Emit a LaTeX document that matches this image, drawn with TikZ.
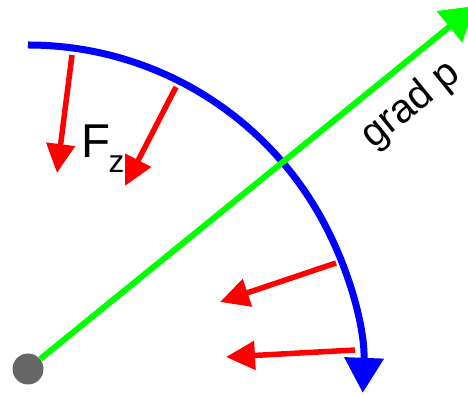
\documentclass[tikz,border=0pt]{standalone}
\usepackage{fontspec}
\setmainfont{Liberation Sans}
\usetikzlibrary{arrows.meta}
\definecolor{gradgreen}{RGB}{0,255,0}
\definecolor{dotgray}{RGB}{102,102,102}

\begin{document}
\begin{tikzpicture}[
    force/.style={red, line width=0.11cm, -{Triangle[width=0.56cm,length=0.58cm]}},
    front/.style={blue, line width=0.14cm, -{Triangle[width=0.76cm,length=0.7cm]}},
    grad/.style={gradgreen, line width=0.12cm, -{Triangle[width=0.78cm,length=0.66cm]}}]
    \useasboundingbox (0,0) rectangle (9.36,7.92);
    % Forces
    \foreach \n/\sx/\sy/\ex/\ey in {1/1.44/6.82/1.14/4.46, 2/3.52/6.18/2.50/4.20, 3/6.72/2.66/4.40/1.88, 4/7.10/0.92/4.52/0.78} {
        \coordinate (fs\n) at (\sx,\sy);
        \coordinate (fe\n) at (\ex,\ey);
        \draw[force] (fs\n) -- (fe\n);
    }
    \node[anchor=base west, inner sep=0, font=\fontsize{27}{32}\selectfont] (fz) at (1.62,4.76) {F\kern-1pt\raisebox{-8pt}{\fontsize{18}{20}\selectfont z}};
    % Front
    \coordinate (frontstart) at (0.56,7.02);
    \draw[front] (frontstart) arc[start angle=90, end angle=-2.2, radius=6.7];
    % Origin and gradient
    \node[circle, fill=dotgray, minimum size=0.62cm, inner sep=0] (origin) at (0.56,0.54) {};
    \coordinate (gradtip) at (9.5,7.8);
    \draw[grad] (origin) -- (gradtip)
        node[pos=0.8, sloped, below=5pt, text=black, font=\fontsize{23}{26}\selectfont] (gradlabel) {grad p};
\end{tikzpicture}
\end{document}
